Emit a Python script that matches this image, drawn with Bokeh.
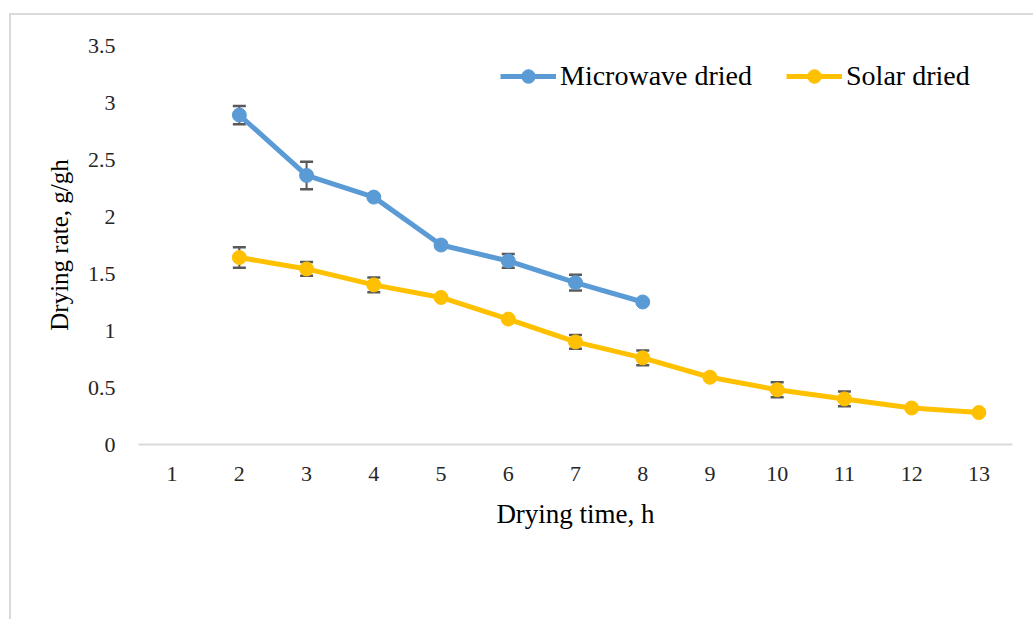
from bokeh.plotting import figure
from bokeh.models import (ColumnDataSource, FixedTicker, Legend, LegendItem,
                          Whisker, TeeHead, Range1d)
from bokeh.embed import file_html
from bokeh.resources import INLINE

# Drying time (h) and drying rate (g/gh) with standard deviations
mw_time = [2, 3, 4, 5, 6, 7, 8]
mw_rate = [2.89, 2.36, 2.17, 1.75, 1.61, 1.42, 1.25]
mw_err = [0.08, 0.12, 0.01, 0.02, 0.06, 0.07, 0.0]

solar_time = [2, 3, 4, 5, 6, 7, 8, 9, 10, 11, 12, 13]
solar_rate = [1.64, 1.54, 1.40, 1.29, 1.10, 0.90, 0.76, 0.59, 0.48, 0.40, 0.32, 0.28]
solar_err = [0.09, 0.06, 0.065, 0.0, 0.0, 0.06, 0.065, 0.0, 0.065, 0.065, 0.0, 0.0]

x_ticks = list(range(1, 14))
y_ticks = [0, 0.5, 1, 1.5, 2, 2.5, 3, 3.5]
y_tick_labels = ["0", "0.5", "1", "1.5", "2", "2.5", "3", "3.5"]

BLUE = "#5B9BD5"
GOLD = "#FFC000"
FONT = "Liberation Serif"

# the figure sits inside a light grey chart border (left and top edges)
OFF_X, OFF_Y = 11, 15
p = figure(width=1035 - OFF_X, height=621 - OFF_Y, output_backend="svg",
           toolbar_location=None,
           x_range=Range1d(0.5, 13.5), y_range=Range1d(0, 3.5),
           min_border_left=138 - OFF_X, min_border_right=23, min_border_top=45 - OFF_Y,
           min_border_bottom=177)
p.styles = {"margin-left": "9px", "margin-top": "13px",
            "border-left": "2px solid #d9d9d9", "border-top": "2px solid #d9d9d9"}
p.background_fill_color = "white"
p.border_fill_color = "white"
p.outline_line_color = None
p.grid.visible = False

# axes
p.xaxis.ticker = FixedTicker(ticks=x_ticks)
p.yaxis.ticker = FixedTicker(ticks=y_ticks)
p.yaxis.major_label_overrides = {t: s for t, s in zip(y_ticks, y_tick_labels)}
p.xaxis.axis_line_color = "#d9d9d9"
p.xaxis.axis_line_width = 2
p.yaxis.axis_line_color = None
for ax in (p.xaxis, p.yaxis):
    ax.major_tick_line_color = None
    ax.minor_tick_line_color = None
    ax.major_label_text_font = FONT
    ax.major_label_text_font_size = "22px"
    ax.major_label_text_color = "#262626"
    ax.axis_label_text_font = FONT
    ax.axis_label_text_font_style = "normal"
    ax.axis_label_text_color = "#000000"
p.xaxis.axis_label_text_font_size = "27px"
p.yaxis.axis_label_text_font_size = "25px"
p.xaxis.major_label_standoff = 16
p.yaxis.major_label_standoff = 17
p.xaxis.axis_label = "Drying time, h"
p.yaxis.axis_label = "Drying rate, g/gh"
p.xaxis.axis_label_standoff = 15
p.yaxis.axis_label_standoff = 12

# error bars, drawn beneath the lines
for t, r, e in ((mw_time, mw_rate, mw_err), (solar_time, solar_rate, solar_err)):
    src = ColumnDataSource(dict(x=t, lo=[a - b for a, b in zip(r, e)],
                                hi=[a + b for a, b in zip(r, e)]))
    w = Whisker(base="x", lower="lo", upper="hi", source=src, level="underlay",
                line_color="#595959", line_width=2,
                upper_head=TeeHead(size=13, line_color="#595959", line_width=2.5),
                lower_head=TeeHead(size=13, line_color="#595959", line_width=2.5))
    p.add_layout(w)

mw_src = ColumnDataSource(dict(x=mw_time, y=mw_rate))
sol_src = ColumnDataSource(dict(x=solar_time, y=solar_rate))

l1 = p.line("x", "y", source=mw_src, line_color=BLUE, line_width=5)
c1 = p.scatter("x", "y", source=mw_src, size=14, fill_color=BLUE, line_color=BLUE)
l2 = p.line("x", "y", source=sol_src, line_color=GOLD, line_width=5)
c2 = p.scatter("x", "y", source=sol_src, size=14, fill_color=GOLD, line_color=GOLD)

legend = Legend(items=[LegendItem(label="Microwave dried", renderers=[l1, c1]),
                       LegendItem(label="Solar dried", renderers=[l2, c2])],
                location=(362, 351), orientation="horizontal",
                glyph_width=56, glyph_height=34, label_standoff=4, spacing=34,
                padding=0, margin=0, border_line_color=None,
                background_fill_alpha=0)
legend.label_text_font = FONT
legend.label_text_font_size = "28px"
legend.label_text_color = "#000000"
p.add_layout(legend, "center")

open("out.html", "w").write(file_html(p, INLINE))
